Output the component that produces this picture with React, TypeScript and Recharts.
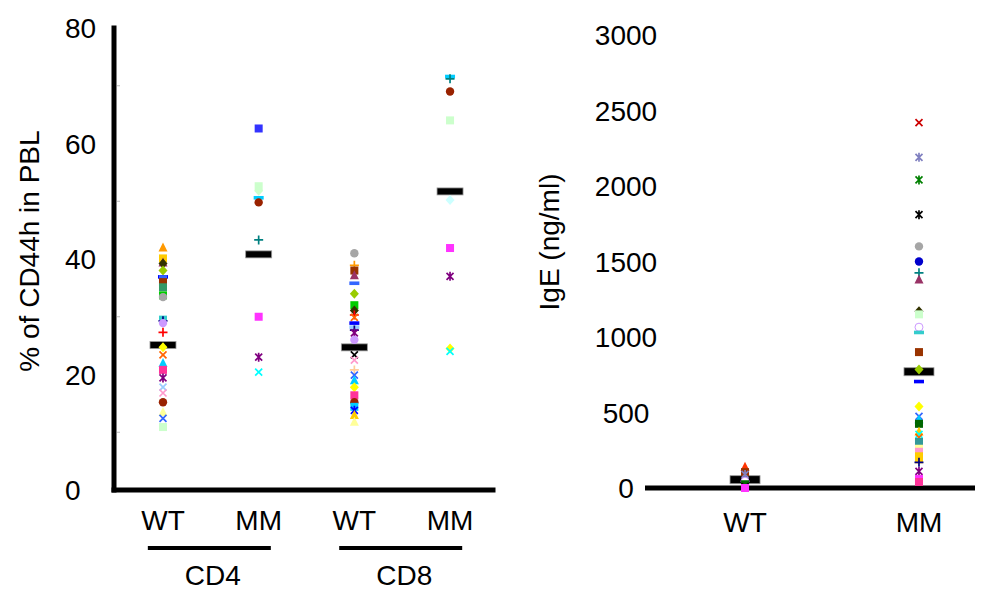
import { Scatter, ScatterChart, XAxis, YAxis } from "recharts";

const FONT = '"Liberation Sans", Arial, Helvetica, sans-serif';

// left panel: % CD44h in PBL
const categories = ["WT", "MM", "WT", "MM"];
const groups = ["CD4", "CD8"];
const cd4Wt = [42, 40.1, 39.4, 39.2, 38, 36.9, 36.5, 36, 35.1, 33.7, 33.4, 29.5, 29.3, 28.9, 27.3, 24.7, 23.4, 22, 20.8, 19.4, 17.8, 16.8, 15.2, 13.5, 12.4, 10.9];
const cd4Mm = [62.6, 52.6, 51.8, 50.6, 49.8, 43.3, 30, 23, 20.4];
const cd8Wt = [41, 38.9, 38, 37.2, 35.8, 34, 32, 31.1, 30.3, 29.9, 28.9, 28.2, 27.7, 27.2, 26, 23.4, 22.5, 20.8, 19.9, 19, 17.8, 16.4, 15.2, 14.4, 13.8, 13, 11.8];
const cd8Mm = [71.6, 71.2, 69, 64, 50.2, 41.9, 37, 24.5, 24];
const leftMeans = [25.1, 40.8, 24.7, 51.7];
const leftTicks = [0, 10, 20, 30, 40, 50, 60, 70, 80];

// right panel: IgE
const igeCategories = ["WT", "MM"];
const igeWt = [140, 105, 90, 45, 25, 10, 0];
const igeMm = [2420, 2190, 2040, 1810, 1600, 1500, 1425, 1380, 1170, 1150, 1065, 1030, 900, 785, 705, 540, 475, 455, 425, 375, 355, 335, 305, 260, 240, 210, 190, 170, 110, 60, 40];
const igeMeans = [55, 770];
const igeTicks = [0, 500, 1000, 1500, 2000, 2500, 3000];

// marker styles (Excel-ish palette)
const MARKS: Record<string, [string, string]> = {
	orTri: ["#FF9900", "triangle"],
	redTri: ["#FF3300", "triangle"],
	goldSq: ["#FFCC00", "square"],
	mauTri: ["#993366", "triangle"],
	oliDia: ["#333300", "diamond"],
	limDia: ["#99CC00", "diamond"],
	bluDash: ["#0000FF", "dash"],
	royDash: ["#3366FF", "dash"],
	roySq: ["#3366FF", "square"],
	brnSq: ["#993300", "square"],
	seaSq: ["#339966", "square"],
	grnSq: ["#00CC00", "square"],
	dgSq: ["#006600", "square"],
	grayCir: ["#A6A6A6", "circle"],
	cyaSq: ["#33CCCC", "square"],
	skySq: ["#00CCFF", "square"],
	navPlus: ["#000080", "plus"],
	lavCir: ["#CC99FF", "circle"],
	redPlus: ["#FF0000", "plus"],
	yelDia: ["#FFFF00", "diamond"],
	orX: ["#FF6600", "x"],
	skyTri: ["#00CCFF", "triangle"],
	roseSq: ["#FF3399", "square"],
	purStar: ["#800080", "star"],
	ltbX: ["#99CCFF", "x"],
	pnkX: ["#FF99CC", "x"],
	drCir: ["#992200", "circle"],
	ltyTri: ["#FFFF99", "triangle"],
	bluX: ["#3366FF", "x"],
	ltgSq: ["#CCFFCC", "square"],
	ltgDia: ["#CCFFCC", "diamond"],
	bluSq: ["#3333FF", "square"],
	skyDash: ["#00CCFF", "dash"],
	tealPlus: ["#008080", "plus"],
	magSq: ["#FF33FF", "square"],
	cyaX: ["#00FFFF", "x"],
	orPlus: ["#FF9900", "plus"],
	ltbDash: ["#99CCFF", "dash"],
	blkX: ["#000000", "x"],
	pchPlus: ["#FFCC99", "plus"],
	yelTri: ["#FFCC00", "triangle"],
	bluStar: ["#0000FF", "star"],
	ltcDia: ["#CCFFFF", "diamond"],
	redX: ["#CC0000", "x"],
	bgStar: ["#8080C0", "star"],
	grnStar: ["#008000", "star"],
	blkStar: ["#000000", "star"],
	bluCir: ["#0000CC", "circle"],
	ring: ["#CC99FF", "ring"],
	cyaDash: ["#33CCCC", "dash"],
	tealSq: ["#339999", "square"],
	ltySq: ["#FFFF99", "square"],
	pnkSq: ["#FF99CC", "square"],
};

const cd4WtMarks = ["orTri", "goldSq", "mauTri", "oliDia", "limDia", "bluDash", "roySq", "brnSq", "seaSq", "grnSq", "grayCir", "cyaSq", "navPlus", "lavCir", "redPlus", "yelDia", "orX", "skyTri", "roseSq", "purStar", "ltbX", "pnkX", "drCir", "ltyTri", "bluX", "ltgSq"];
const cd4MmMarks = ["bluSq", "ltgSq", "ltgDia", "skyDash", "drCir", "tealPlus", "magSq", "purStar", "cyaX"];
const cd8WtMarks = ["grayCir", "orPlus", "brnSq", "mauTri", "royDash", "limDia", "grnSq", "oliDia", "redPlus", "orX", "bluDash", "ltbDash", "navPlus", "purStar", "lavCir", "blkX", "pnkX", "pchPlus", "bluX", "skyTri", "yelDia", "roseSq", "drCir", "skySq", "bluStar", "yelTri", "ltyTri"];
const cd8MmMarks = ["skyDash", "tealPlus", "drCir", "ltgSq", "ltcDia", "magSq", "purStar", "yelDia", "cyaX"];
const igeWtMarks = ["redTri", "brnSq", "bgStar", "ring", "dgSq", "blkX", "magSq"];
const igeMmMarks = ["redX", "bgStar", "grnStar", "blkStar", "grayCir", "bluCir", "tealPlus", "mauTri", "oliDia", "ltgSq", "ring", "cyaDash", "brnSq", "limDia", "bluDash", "yelDia", "bluX", "skyTri", "dgSq", "yelTri", "cyaX", "orX", "tealSq", "ltySq", "pnkSq", "goldSq", "goldSq", "navPlus", "purStar", "magSq", "roseSq"];

const toPoints = (x: number, values: number[], marks: string[]) =>
	values.map((y, i) => ({ x, y, mark: marks[i] }));

const meanPoints = (values: number[]) => values.map((y, i) => ({ x: i + 1, y }));

function drawMark(props: any) {
	const { cx, cy, payload } = props;
	const [c, shape] = MARKS[payload.mark] ?? ["#000", "circle"];
	switch (shape) {
		case "square":
			return <rect x={cx - 4} y={cy - 4} width={8} height={8} fill={c} />;
		case "diamond":
			return <polygon points={`${cx},${cy - 5} ${cx + 4.5},${cy} ${cx},${cy + 5} ${cx - 4.5},${cy}`} fill={c} />;
		case "triangle":
			return <polygon points={`${cx},${cy - 5} ${cx + 4.5},${cy + 4} ${cx - 4.5},${cy + 4}`} fill={c} />;
		case "dash":
			return <rect x={cx - 5} y={cy - 1.8} width={10} height={3.6} fill={c} />;
		case "x":
			return <path d={`M${cx - 3.5},${cy - 3.5}L${cx + 3.5},${cy + 3.5}M${cx - 3.5},${cy + 3.5}L${cx + 3.5},${cy - 3.5}`} stroke={c} strokeWidth={1.7} />;
		case "star":
			return <path d={`M${cx - 3.5},${cy - 3.5}L${cx + 3.5},${cy + 3.5}M${cx - 3.5},${cy + 3.5}L${cx + 3.5},${cy - 3.5}M${cx},${cy - 4.5}L${cx},${cy + 4.5}`} stroke={c} strokeWidth={1.7} />;
		case "plus":
			return <path d={`M${cx - 4.5},${cy}L${cx + 4.5},${cy}M${cx},${cy - 4.5}L${cx},${cy + 4.5}`} stroke={c} strokeWidth={1.7} />;
		case "ring":
			return <circle cx={cx} cy={cy} r={4} fill="#fff" stroke={c} strokeWidth={1} />;
		default:
			return <circle cx={cx} cy={cy} r={4.2} fill={c} />;
	}
}

const leftMeanBar = (p: any) => <rect x={p.cx - 13} y={p.cy - 3.5} width={26} height={7} fill="#000" stroke="#999" strokeWidth={0.8} />;
const rightMeanBar = (p: any) => <rect x={p.cx - 15} y={p.cy - 4} width={30} height={8} fill="#000" stroke="#999" strokeWidth={0.8} />;

const axisStyle = { stroke: "#000", strokeWidth: 5, strokeLinecap: "square" as const };

const LeftYTick = ({ y, payload }: any) => {
	const v = payload.value;
	if (v % 20 !== 0) return <line x1={117} x2={120} y1={y} y2={y} stroke="#bbb" strokeWidth={1} />;
	return (
		<text x={65} y={y} dy="0.36em" fontSize={28} fontFamily={FONT} fill="#000">
			{v}
		</text>
	);
};

const CatTick = ({ x, y, payload }: any) => (
	<text x={x} y={y + 40} textAnchor="middle" fontSize={28} fontFamily={FONT} fill="#000">
		{categories[payload.value - 1]}
	</text>
);

const GroupTick = ({ x, y, payload }: any) => (
	<g>
		<line x1={x - 63} x2={x + 60} y1={y + 8} y2={y + 8} stroke="#000" strokeWidth={4} />
		<text x={x + 2} y={y + 45} textAnchor="middle" fontSize={28} fontFamily={FONT} fill="#000">
			{groups[payload.value === 1.5 ? 0 : 1]}
		</text>
	</g>
);

const RightYTick = ({ y, payload }: any) => (
	<text x={126} y={y} dy="0.36em" textAnchor="middle" fontSize={28} fontFamily={FONT} fill="#000">
		{payload.value}
	</text>
);

const IgeCatTick = ({ x, y, payload }: any) => (
	<text x={x} y={y + 44} textAnchor="middle" fontSize={28} fontFamily={FONT} fill="#000">
		{igeCategories[payload.value - 1]}
	</text>
);

export default function App() {
	const leftDomain: [number, number] = [0.488, 4.449];
	const rightDomain: [number, number] = [0.425, 2.322];

	return (
		<div style={{ position: "absolute", left: 0, top: 0, width: 981, height: 596, background: "#fff" }}>
			<div style={{ position: "absolute", left: 0, top: 0 }}>
				<ScatterChart width={520} height={596} margin={{ top: 28, right: 27, bottom: 0, left: 0 }}>
					<XAxis
						xAxisId="cat"
						type="number"
						dataKey="x"
						domain={leftDomain}
						ticks={[1, 2, 3, 4]}
						height={50}
						tickLine={false}
						tickSize={0}
						tickMargin={0}
						axisLine={axisStyle}
						tick={CatTick}
						allowDataOverflow
					/>
					<XAxis
						xAxisId="grp"
						type="number"
						dataKey="x"
						domain={leftDomain}
						ticks={[1.5, 3.5]}
						height={56}
						tickLine={false}
						tickSize={0}
						tickMargin={0}
						axisLine={false}
						tick={GroupTick}
						allowDataOverflow
					/>
					<YAxis
						type="number"
						dataKey="y"
						domain={[0, 80]}
						ticks={leftTicks}
						width={114}
						tickLine={false}
						axisLine={axisStyle}
						tick={LeftYTick}
						label={{
							content: () => (
								<text x={29} y={251} transform="rotate(-90 29 251)" textAnchor="middle" dy="0.36em" fontSize={28} fontFamily={FONT} fill="#000">
									% of CD44h in PBL
								</text>
							),
						}}
					/>
					<Scatter xAxisId="cat" data={meanPoints(leftMeans)} shape={leftMeanBar} isAnimationActive={false} />
					<Scatter xAxisId="cat" data={toPoints(1, cd4Wt, cd4WtMarks)} shape={drawMark} isAnimationActive={false} />
					<Scatter xAxisId="cat" data={toPoints(2, cd4Mm, cd4MmMarks)} shape={drawMark} isAnimationActive={false} />
					<Scatter xAxisId="cat" data={toPoints(3, cd8Wt, cd8WtMarks)} shape={drawMark} isAnimationActive={false} />
					<Scatter xAxisId="cat" data={toPoints(4, cd8Mm, cd8MmMarks)} shape={drawMark} isAnimationActive={false} />
				</ScatterChart>
			</div>
			<div style={{ position: "absolute", left: 500, top: 0 }}>
				<ScatterChart width={481} height={596} margin={{ top: 35, right: 6, bottom: 0, left: 0 }}>
					<XAxis
						type="number"
						dataKey="x"
						domain={rightDomain}
						ticks={[1, 2]}
						height={108}
						tickLine={false}
						tickSize={0}
						tickMargin={0}
						axisLine={{ stroke: "#000", strokeWidth: 5 }}
						tick={IgeCatTick}
						allowDataOverflow
					/>
					<YAxis
						type="number"
						dataKey="y"
						domain={[0, 3000]}
						ticks={igeTicks}
						width={145}
						tickLine={false}
						axisLine={false}
						tick={RightYTick}
						label={{
							content: () => (
								<text x={49} y={242} transform="rotate(-90 49 242)" textAnchor="middle" dy="0.36em" fontSize={28} fontFamily={FONT} fill="#000">
									IgE (ng/ml)
								</text>
							),
						}}
					/>
					<Scatter data={meanPoints(igeMeans)} shape={rightMeanBar} isAnimationActive={false} />
					<Scatter data={toPoints(1, igeWt, igeWtMarks)} shape={drawMark} isAnimationActive={false} />
					<Scatter data={toPoints(2, igeMm, igeMmMarks)} shape={drawMark} isAnimationActive={false} />
				</ScatterChart>
			</div>
		</div>
	);
}
